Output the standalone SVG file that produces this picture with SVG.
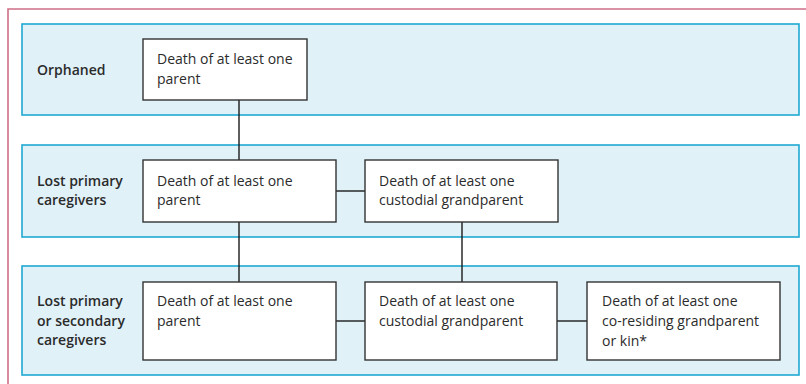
<svg xmlns="http://www.w3.org/2000/svg" width="806" height="384" viewBox="0 0 806 384">
<style>
.frame{fill:none;stroke:#cf6f88;stroke-width:1.6}
.band{fill:#e0f1f8;stroke:#1fa9d2;stroke-width:1.6}
.box{fill:#ffffff;stroke:#333333;stroke-width:1.4}
.lbl{font-family:"Open Sans","Liberation Sans",sans-serif;font-size:14px;font-weight:600;fill:#2b2b2b}
.txt{font-family:"Open Sans","Liberation Sans",sans-serif;font-size:14px;fill:#2b2b2b}
.conn line{stroke:#1a1a1a;stroke-width:1.4}
</style>
<rect width="806" height="384" fill="#ffffff"/>
<path class="frame" d="M8 390 V9 H812"/>
<g id="band-orphaned">
<rect class="band" x="22" y="24" width="777" height="91"/>
<text class="lbl" x="37" y="75">Orphaned</text>
</g>
<g id="band-primary">
<rect class="band" x="22" y="145" width="777" height="92"/>
<text class="lbl" x="37" y="186">Lost primary</text>
<text class="lbl" x="37" y="205">caregivers</text>
</g>
<g id="band-secondary">
<rect class="band" x="22" y="266" width="777" height="109"/>
<text class="lbl" x="37" y="306">Lost primary</text>
<text class="lbl" x="37" y="326">or secondary</text>
<text class="lbl" x="37" y="345">caregivers</text>
</g>
<g class="conn" id="connectors">
<line x1="239" y1="100" x2="239" y2="160"/>
<line x1="239" y1="222" x2="239" y2="282"/>
<line x1="336" y1="191" x2="365" y2="191"/>
<line x1="462" y1="222" x2="462" y2="282"/>
<line x1="336" y1="321" x2="365" y2="321"/>
<line x1="557" y1="321" x2="587" y2="321"/>
</g>
<g id="node-orphan-parent">
<rect class="box" x="143" y="39" width="164" height="61"/>
<text class="txt" x="157" y="64">Death of at least one</text>
<text class="txt" x="157" y="84">parent</text>
</g>
<g id="node-primary-parent">
<rect class="box" x="143" y="160" width="193" height="62"/>
<text class="txt" x="157" y="186">Death of at least one</text>
<text class="txt" x="157" y="205">parent</text>
</g>
<g id="node-primary-grand">
<rect class="box" x="365" y="160" width="193" height="62"/>
<text class="txt" x="379" y="186">Death of at least one</text>
<text class="txt" x="379" y="205">custodial grandparent</text>
</g>
<g id="node-secondary-parent">
<rect class="box" x="143" y="282" width="193" height="78"/>
<text class="txt" x="157" y="306">Death of at least one</text>
<text class="txt" x="157" y="326">parent</text>
</g>
<g id="node-secondary-grand">
<rect class="box" x="365" y="282" width="192" height="78"/>
<text class="txt" x="379" y="306">Death of at least one</text>
<text class="txt" x="379" y="326">custodial grandparent</text>
</g>
<g id="node-secondary-kin">
<rect class="box" x="587" y="282" width="193" height="78"/>
<text class="txt" x="602" y="306">Death of at least one</text>
<text class="txt" x="602" y="326">co-residing grandparent</text>
<text class="txt" x="602" y="346">or kin*</text>
</g>
</svg>
